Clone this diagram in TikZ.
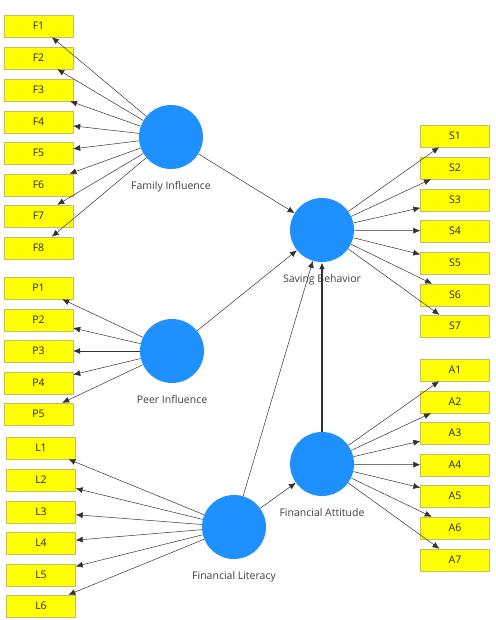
\documentclass[tikz,border=0pt]{standalone}
\usepackage{fontspec}
\setmainfont{Open Sans}
\usetikzlibrary{positioning,arrows.meta}
\definecolor{lvblue}{RGB}{30,144,255}
\definecolor{mvyellow}{RGB}{255,255,0}
\definecolor{edgegray}{RGB}{50,50,50}

\begin{document}
\begin{tikzpicture}[x=1pt,y=-1pt,
	latent/.style={circle,fill=lvblue,minimum size=64pt,inner sep=0},
	item/.style={rectangle,draw=yellow!45!gray,fill=mvyellow,minimum width=69pt,minimum height=22pt,inner sep=0,font=\fontsize{10.5}{11}\selectfont,text=black!85},
	lvname/.style={font=\fontsize{10.5}{11}\selectfont,text=black!75,inner sep=1pt},
	load/.style={draw=edgegray,line width=0.5pt,-{Latex[length=7pt,width=6pt]}},
	inner/.style={draw=edgegray,line width=0.5pt,-{Latex[length=7pt,width=6pt]}}]
	\useasboundingbox (0,0) rectangle (495,620);
	% latent variables
	\node[latent] (FI) at (171,137) {};
	\node[latent] (PI) at (172,351) {};
	\node[latent] (SB) at (322,230) {};
	\node[latent] (FA) at (322,464) {};
	\node[latent] (FL) at (234,527) {};
	\node[lvname,below=11pt of FI] (FIname) {Family Influence};
	\node[lvname,below=11pt of PI] (PIname) {Peer Influence};
	\node[lvname,below=11pt of SB] (SBname) {Saving Behavior};
	\node[lvname,below=11pt of FA] (FAname) {Financial Attitude};
	\node[lvname,below=11pt of FL] (FLname) {Financial Literacy};
	% indicators
	\foreach \i/\y in {1/26,2/58,3/90,4/122,5/153,6/185,7/216,8/248}
		\node[item] (F\i) at (38.5,\y) {F\i};
	\foreach \i/\y in {1/288,2/320,3/351,4/383,5/414}
		\node[item] (P\i) at (38.5,\y) {P\i};
	\foreach \i/\y in {1/448,2/480,3/512,4/543,5/575,6/606}
		\node[item] (L\i) at (41,\y) {L\i};
	\foreach \i/\y in {1/136,2/168,3/200,4/231,5/263,6/295,7/326}
		\node[item] (S\i) at (455,\y) {S\i};
	\foreach \i/\y in {1/370,2/402,3/433,4/465,5/496,6/528,7/560}
		\node[item] (A\i) at (455,\y) {A\i};
	% outer loadings
	\foreach \i in {1,...,8} \draw[load] (FI) -- (F\i);
	\foreach \i in {1,...,5} \draw[load] (PI) -- (P\i);
	\foreach \i in {1,...,6} \draw[load] (FL) -- (L\i);
	\foreach \i in {1,...,7} \draw[load] (SB) -- (S\i);
	\foreach \i in {1,...,7} \draw[load] (FA) -- (A\i);
	% structural paths
	\draw[inner] (FI) -- (SB);
	\draw[inner] (PI) -- (SB);
	\draw[inner] (FL) -- (SB);
	\draw[inner] (FL) -- (FA);
	\draw[inner,line width=1.4pt] (FA) -- (SB);
\end{tikzpicture}
\end{document}
